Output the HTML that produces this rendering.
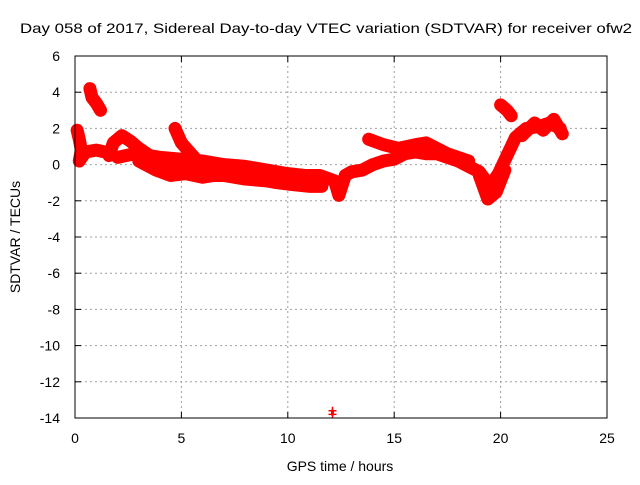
<!DOCTYPE html>
<html><head><meta charset="utf-8"><style>
body{margin:0;background:#fff}
svg text{font-family:"Liberation Sans",sans-serif;font-size:14px;fill:#000}
</style></head><body>
<svg id="c" width="640" height="480">
<text x="20" y="33" textLength="612" lengthAdjust="spacingAndGlyphs">Day 058 of 2017, Sidereal Day-to-day VTEC variation (SDTVAR) for receiver ofw2</text>
<text x="340" y="471" text-anchor="middle">GPS time / hours</text>
<text transform="translate(20,237) rotate(-90)" text-anchor="middle">SDTVAR / TECUs</text>
<g id="grid"></g><g id="data"></g>
<rect x="75" y="56" width="532" height="362" fill="none" stroke="#000"/>
</svg>
<script>
const xTicks=[0,5,10,15,20,25];
const yTicks=[6,4,2,0,-2,-4,-6,-8,-10,-12,-14];
const traceA=[[0.1,1.9],[0.2,1.4],[0.3,0.8],[0.2,0.2],[0.5,0.7],[1.0,0.8],[1.4,0.7]];
const traceB=[[0.7,4.2],[0.8,3.7],[1.0,3.4],[1.2,3.0]];
const traceMain=[[1.6,0.5],[1.8,1.2],[2.2,1.6],[2.6,1.3],[3.0,0.9],[3.5,0.5],[4.0,0.4],[5.0,0.3],[6.0,0.2],[7.0,0.0],[8.0,-0.1],[9.0,-0.3],[10.0,-0.5],[10.8,-0.6],[11.5,-0.6],[12.2,-0.9],[12.4,-1.7],[12.7,-0.6],[13.0,-0.4],[13.5,-0.3],[14.0,0.0],[14.5,0.2],[15.0,0.3],[15.5,0.6],[16.0,0.7],[16.5,0.6],[17.0,0.6],[17.5,0.4],[18.0,0.2],[18.5,-0.1],[19.0,-0.4],[19.5,-1.2],[19.9,-0.5],[20.3,0.5],[20.7,1.5],[21.2,2.0],[21.8,2.1],[22.3,2.3],[22.8,2.0]];
const traceMid=[[2.0,0.4],[2.8,0.6],[3.5,0.0],[4.5,-0.2],[5.5,-0.3],[6.5,-0.3],[7.5,-0.4],[8.5,-0.5],[9.5,-0.6],[10.5,-0.9]];
const traceLow=[[3.0,0.2],[3.8,-0.3],[4.5,-0.6],[5.2,-0.5],[6.0,-0.7],[6.5,-0.6],[7.0,-0.6],[8.0,-0.8],[9.0,-0.9],[9.5,-1.0],[10.2,-1.1],[11.0,-1.2],[11.6,-1.2]];
const traceC=[[4.7,2.0],[5.0,1.2],[5.3,0.8],[5.6,0.4]];
const traceD=[[13.8,1.4],[14.5,1.1],[15.2,0.9],[16.0,1.1],[16.5,1.2],[17.5,0.6],[18.5,0.2]];
const traceE=[[20.0,3.3],[20.3,3.0],[20.5,2.7]];
const traceF=[[19.0,-0.6],[19.4,-1.9],[19.8,-1.5],[20.2,-0.3]];
const traceG=[[21.0,1.6],[21.6,2.3],[22.0,1.9],[22.5,2.5],[22.9,1.7]];
const outlier=[[12.1,-13.6],[12.1,-13.8]];
const X=v=>75+v*532/25, Y=v=>56+(6-v)*362/20;
const NS="http://www.w3.org/2000/svg";
const grid=document.getElementById('grid'), dg=document.getElementById('data');
function mk(tag,at,p){const e=document.createElementNS(NS,tag);for(const k in at)e.setAttribute(k,at[k]);p.appendChild(e);return e;}
xTicks.forEach(t=>{
 if(t>0&&t<25){const l=mk('line',{x1:X(t),x2:X(t),y1:56,y2:418,stroke:'#a0a0a0','stroke-dasharray':'2,3'},grid);
 
 }
 mk('line',{x1:X(t),x2:X(t),y1:418,y2:412,stroke:'#000'},grid);
 mk('line',{x1:X(t),x2:X(t),y1:56,y2:62,stroke:'#000'},grid);
 const tx=mk('text',{x:X(t),y:443,'text-anchor':'middle'},grid);tx.textContent=t;
 
 
});
yTicks.forEach(t=>{
 if(t<6&&t>-14){const l=mk('line',{x1:75,x2:607,y1:Y(t),y2:Y(t),stroke:'#a0a0a0','stroke-dasharray':'2,3'},grid);
 
 }
 mk('line',{x1:75,x2:81,y1:Y(t),y2:Y(t),stroke:'#000'},grid);
 mk('line',{x1:601,x2:607,y1:Y(t),y2:Y(t),stroke:'#000'},grid);
 const tx=mk('text',{x:60,y:Y(t)+5,'text-anchor':'end'},grid);tx.textContent=t;
 
 
});
[traceA,traceB,traceMain,traceMid,traceLow,traceC,traceD,traceE,traceF,traceG,outlier].forEach((tr,i)=>{
 const g=mk('g',{},dg);
 
 
 mk('polyline',{points:tr.map(p=>X(p[0])+','+Y(p[1])).join(' '),fill:'none',stroke:'#f00','stroke-width':tr.length>2?13:3,'stroke-linejoin':'round','stroke-linecap':'round'},g);
 tr.forEach(p=>{mk('path',{d:`M${X(p[0])-4},${Y(p[1])}h8M${X(p[0])},${Y(p[1])-4}v8`,stroke:'#f00','stroke-width':1.5},g);});
});
</script>
</body></html>
